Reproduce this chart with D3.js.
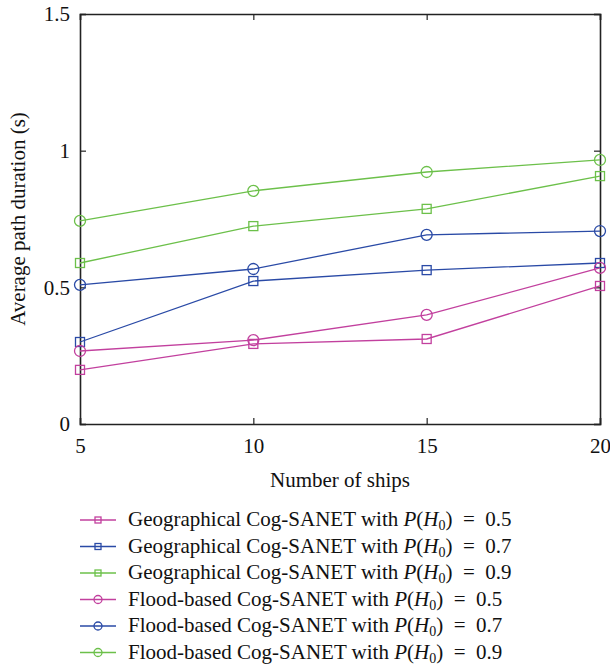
<!DOCTYPE html>
<html>
<head>
<meta charset="utf-8">
<script src="https://cdn.jsdelivr.net/npm/d3@7"></script>
<style>
  body { margin: 0; background: #fff; }
  text { font-family: "Liberation Serif", "DejaVu Serif", serif; fill: #111; }
</style>
</head>
<body>
<script>
// number of ships on the x axis
var ships = [5, 10, 15, 20];

// average path duration per series (s)
var geo05 = [0.198, 0.293, 0.311, 0.505];
var geo07 = [0.300, 0.523, 0.563, 0.589];
var geo09 = [0.589, 0.724, 0.787, 0.907];
var flood05 = [0.267, 0.307, 0.399, 0.571];
var flood07 = [0.509, 0.567, 0.692, 0.706];
var flood09 = [0.743, 0.853, 0.922, 0.966];

var seriesNames = ["Geographical Cog-SANET with ", "Geographical Cog-SANET with ", "Geographical Cog-SANET with ",
	"Flood-based Cog-SANET with ", "Flood-based Cog-SANET with ", "Flood-based Cog-SANET with "];
var seriesProb = ["0.5", "0.7", "0.9", "0.5", "0.7", "0.9"];
var seriesValues = [geo05, geo07, geo09, flood05, flood07, flood09];
var seriesMarker = ["square", "square", "square", "circle", "circle", "circle"];

var xTicks = [5, 10, 15, 20];
var yTicks = [0, 0.5, 1, 1.5];

var magenta = "#c2409e", blue = "#2a4aa6", green = "#6cc04a";
var seriesColor = [magenta, blue, green, magenta, blue, green];

var margin = {top: 14, right: 10, bottom: 243, left: 80},
	width = 610 - margin.left - margin.right,
	height = 667 - margin.top - margin.bottom;

var svg = d3.select("body").append("svg")
	.attr("width", 610)
	.attr("height", 667);

var g = svg.append("g")
	.attr("transform", "translate(" + margin.left + "," + margin.top + ")");

var x = d3.scaleLinear().domain([5, 20]).range([0, width]);
var y = d3.scaleLinear().domain([0, 1.5]).range([height, 0]);

// axes with inward ticks, mirrored on top and right
g.append("g")
	.attr("class", "axis")
	.attr("transform", "translate(0," + height + ")")
	.call(d3.axisBottom(x).tickValues(xTicks).tickSize(-6).tickPadding(14));
g.append("g")
	.attr("class", "axis")
	.call(d3.axisLeft(y).tickValues(yTicks).tickSize(-6).tickPadding(10).tickFormat(d3.format("")));
g.append("g")
	.attr("class", "axis mirror")
	.call(d3.axisTop(x).tickValues(xTicks).tickSize(-6).tickFormat(""));
g.append("g")
	.attr("class", "axis mirror")
	.attr("transform", "translate(" + width + ",0)")
	.call(d3.axisRight(y).tickValues(yTicks).tickSize(-6).tickFormat(""));

g.selectAll(".axis path").attr("stroke", "#222").attr("stroke-width", 1.6);
g.selectAll(".axis line").attr("stroke", "#222").attr("stroke-width", 1.2);
g.selectAll(".axis text").attr("font-size", 21).attr("font-family", "Liberation Serif").attr("fill", "#111");

// axis titles
g.append("text")
	.attr("x", width / 2)
	.attr("y", height + 63)
	.attr("text-anchor", "middle")
	.attr("font-size", 21)
	.text("Number of ships");

g.append("text")
	.attr("transform", "rotate(-90)")
	.attr("x", -height / 2)
	.attr("y", -55)
	.attr("text-anchor", "middle")
	.attr("font-size", 21)
	.text("Average path duration (s)");

var line = d3.line()
	.x(function(d, i) { return x(ships[i]); })
	.y(function(d) { return y(d); });

function drawMarker(sel, type, cx, cy, size, color) {
	if (type == "square") {
		sel.append("rect")
			.attr("x", cx - size / 2)
			.attr("y", cy - size / 2)
			.attr("width", size)
			.attr("height", size)
			.attr("fill", "none")
			.attr("stroke", color)
			.attr("stroke-width", 1.3);
	} else {
		sel.append("circle")
			.attr("cx", cx)
			.attr("cy", cy)
			.attr("r", size / 2 + 1)
			.attr("fill", "none")
			.attr("stroke", color)
			.attr("stroke-width", 1.3);
	}
}

for (var s = 0; s < seriesValues.length; s++) {
	g.append("path")
		.datum(seriesValues[s])
		.attr("d", line)
		.attr("fill", "none")
		.attr("stroke", seriesColor[s])
		.attr("stroke-width", 1.3);
	seriesValues[s].forEach(function(v, i) {
		drawMarker(g, seriesMarker[s], x(ships[i]), y(v), 9, seriesColor[s]);
	});
}

// legend
var legend = svg.append("g").attr("transform", "translate(80,520)");
for (var i = 0; i < seriesNames.length; i++) {
	var row = legend.append("g").attr("transform", "translate(0," + (i * 26.5) + ")");
	row.append("line")
		.attr("x1", 0).attr("x2", 36)
		.attr("y1", 0).attr("y2", 0)
		.attr("stroke", seriesColor[i])
		.attr("stroke-width", 1.3);
	drawMarker(row, seriesMarker[i], 18, 0, 6, seriesColor[i]);
	var t = row.append("text")
		.attr("x", 48)
		.attr("y", 6)
		.attr("font-size", 21);
	t.append("tspan").text(seriesNames[i]);
	t.append("tspan").attr("font-style", "italic").text("P");
	t.append("tspan").text("(");
	t.append("tspan").attr("font-style", "italic").text("H");
	t.append("tspan").attr("font-size", 14).attr("dy", 4).text("0");
	t.append("tspan").attr("dy", -4).text(")\u00a0\u00a0=\u00a0\u00a0" + seriesProb[i]);
}
</script>
</body>
</html>
